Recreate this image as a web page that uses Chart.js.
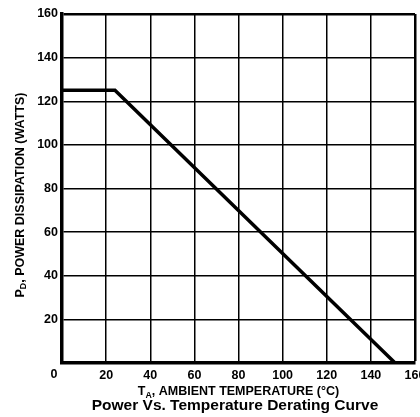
<!DOCTYPE html>
<html>
<head>
<meta charset="utf-8">
<script src="https://cdn.jsdelivr.net/npm/chart.js@4/dist/chart.umd.min.js"></script>
<style>
  html, body { margin: 0; padding: 0; background: #fff; }
  #c { display: block; }
</style>
</head>
<body>
<canvas id="c" width="420" height="417"></canvas>
<script>
// Data
const temperature = [0, 24, 151];        // T_A (°C)
const powerDissipation = [125, 125, 0];  // P_D (W)
const xMin = 0, xMax = 160, xStep = 20;
const yMin = 0, yMax = 160, yStep = 20;
const xTitleParts = [["T", false], ["A", true], [", AMBIENT TEMPERATURE (°C)", false]];
const yTitleParts = [["P", false], ["D", true], [", POWER DISSIPATION (WATTS)", false]];
const captionText = "Power Vs. Temperature Derating Curve";
const originLabel = "0";

const FONT = "'Liberation Sans', Arial, Helvetica, sans-serif";

function drawParts(ctx, parts, cx, cy, size) {
  let total = 0;
  const widths = parts.map(([t, sub]) => {
    ctx.font = `bold ${sub ? size * 0.7 : size}px ${FONT}`;
    const w = ctx.measureText(t).width;
    total += w;
    return w;
  });
  let x = cx - total / 2;
  ctx.textAlign = 'left';
  ctx.textBaseline = 'alphabetic';
  parts.forEach(([t, sub], i) => {
    ctx.font = `bold ${sub ? size * 0.7 : size}px ${FONT}`;
    ctx.fillText(t, x, cy + size * 0.36 + (sub ? size * 0.2 : 0));
    x += widths[i];
  });
}

const textPlugin = {
  id: 'texts',
  afterDraw(chart) {
    const ctx = chart.ctx;
    const a = chart.chartArea;
    ctx.save();
    ctx.fillStyle = '#000';
    drawParts(ctx, xTitleParts, (a.left + a.right) / 2, 390.5, 12.5);
    ctx.font = `bold 15.5px ${FONT}`;
    ctx.textAlign = 'center';
    ctx.textBaseline = 'middle';
    ctx.fillText(captionText, 235, 406);
    ctx.font = `bold 12.5px ${FONT}`;
    ctx.fillText(originLabel, 54, 375);
    ctx.translate(19, 195);
    ctx.rotate(-Math.PI / 2);
    drawParts(ctx, yTitleParts, 0, 0, 12.5);
    ctx.restore();
  }
};

const points = temperature.map((t, i) => ({ x: t, y: powerDissipation[i] }));

new Chart(document.getElementById('c'), {
  type: 'line',
  data: {
    datasets: [{
      data: points,
      borderColor: '#000',
      borderWidth: 3.5,
      pointRadius: 0,
      tension: 0,
      fill: false
    }]
  },
  options: {
    responsive: false,
    animation: false,
    devicePixelRatio: 1,
    layout: { padding: { top: 14, right: 5, left: 0, bottom: 0 } },
    plugins: { legend: { display: false }, tooltip: { enabled: false }, title: { display: false } },
    scales: {
      x: {
        type: 'linear',
        min: xMin, max: xMax,
        ticks: {
          stepSize: xStep,
          color: '#000',
          font: { family: FONT, size: 12.5, weight: 'bold' },
          padding: 5,
          maxRotation: 0,
          callback: v => (v === 0 ? '' : String(v))
        },
        grid: {
          color: '#000',
          lineWidth: ctx => (ctx.tick && ctx.tick.value === xMax ? 2.5 : 1.5),
          drawTicks: false
        },
        border: { color: '#000', width: 3.5 },
        afterFit(scale) { scale.height = 54; scale.paddingLeft = 0; scale.paddingRight = 0; }
      },
      y: {
        min: yMin, max: yMax,
        ticks: {
          stepSize: yStep,
          color: '#000',
          font: { family: FONT, size: 12.5, weight: 'bold' },
          padding: 4,
          callback: v => (v === 0 ? '' : String(v))
        },
        grid: {
          color: '#000',
          lineWidth: ctx => (ctx.tick && ctx.tick.value === yMax ? 2.5 : 1.5),
          drawTicks: false
        },
        border: { color: '#000', width: 3.5 },
        afterFit(scale) { scale.width = 62; scale.paddingTop = 0; scale.paddingBottom = 0; }
      }
    }
  },
  plugins: [textPlugin]
});
</script>
</body>
</html>
